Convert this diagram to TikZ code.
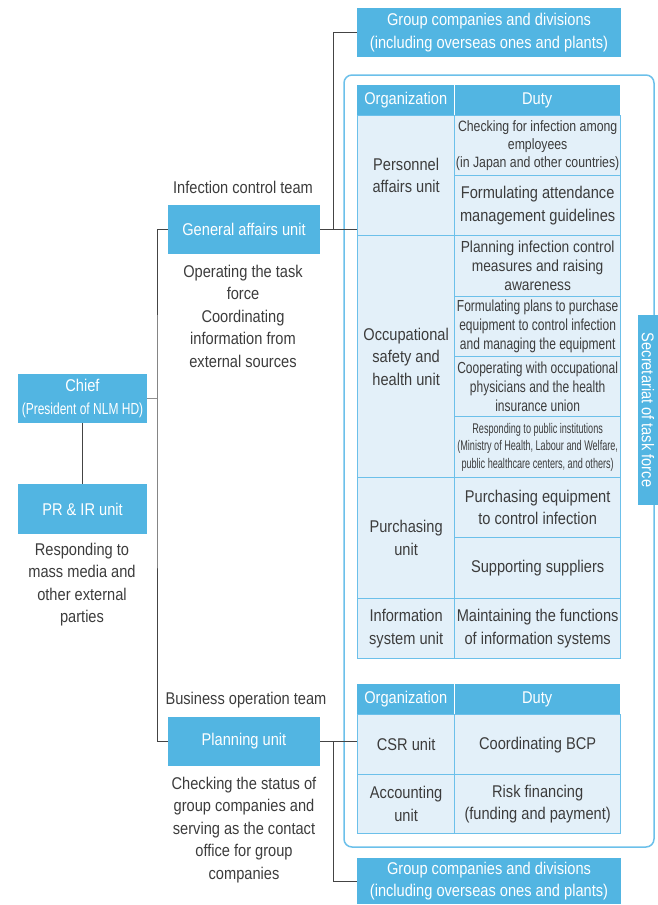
\documentclass[tikz,border=0pt]{standalone}
\usepackage{fontspec}
\setmainfont{Liberation Sans}[FakeStretch=0.86]
\newfontfamily\condA{Liberation Sans}[FakeStretch=0.82]
\newfontfamily\condB{Liberation Sans}[FakeStretch=0.75]
\newfontfamily\condC{Liberation Sans}[FakeStretch=0.65]
\usetikzlibrary{positioning}
\definecolor{boxblue}{HTML}{52B5E2}
\definecolor{cellfill}{HTML}{E3F0F9}
\definecolor{cellline}{HTML}{6CC0EA}
\definecolor{textgray}{HTML}{3C3C3C}
\definecolor{linegray}{HTML}{444444}
\newcommand{\mainsize}{\fontsize{17pt}{22.5pt}\selectfont}
\tikzset{
bluebox/.style={fill=boxblue, text=white, align=center, inner sep=0pt, font=\mainsize},
note/.style={text=textgray, align=center, inner sep=0pt, font=\mainsize},
cell/.style={draw=cellline, fill=cellfill, line width=1.3pt, text=textgray, align=center, inner sep=1pt, anchor=north west, font=\mainsize},
orgcell/.style={cell, minimum width=97pt},
dutycell/.style={cell, minimum width=166pt},
head/.style={fill=boxblue, text=white, inner sep=0pt, anchor=north west, minimum height=30pt, font=\mainsize},
link/.style={draw=linegray, line width=0.9pt}
}

\begin{document}
\begin{tikzpicture}[x=1pt, y=-1pt]
\useasboundingbox (0,0) rectangle (658,905);

% task force frame
\draw[cellline, line width=1.5pt, rounded corners=8pt] (344,75) rectangle (654,847);

% chief and left column
\node[bluebox, minimum width=129pt, minimum height=49pt] (chief) at (82.5,398.5) {Chief\\{\condB\fontsize{16pt}{22.5pt}\selectfont (President of NLM HD)}};
\node[bluebox, minimum width=129pt, minimum height=50pt] (pr) at (82.5,509) {PR \& IR unit};
\node[note] (prnote) at (82,584.5) {Responding to\\mass media and\\other external\\parties};

\node[note] (ictteam) at (243,187) {Infection control team};
\node[bluebox, minimum width=152pt, minimum height=49pt] (genaff) at (244,229.5) {General affairs unit};
\node[note] (genaffnote) at (243,316) {Operating the task\\force\\Coordinating\\information from\\external sources};

\node[note] (bizteam) at (246,700) {Business operation team};
\node[bluebox, minimum width=152pt, minimum height=49pt] (plan) at (244,741.5) {Planning unit};
\node[note] (plannote) at (244,830) {Checking the status of\\group companies and\\serving as the contact\\office for group\\companies};

% group companies
\node[bluebox, minimum width=264pt, minimum height=49pt] (grptop) at (489,32.5) {Group companies and divisions\\(including overseas ones and plants)};
\node[bluebox, minimum width=264pt, minimum height=46pt] (grpbot) at (489,881) {Group companies and divisions\\(including overseas ones and plants)};

% infection control table
\node[head, minimum width=97pt] (orghead) at (357,85) {Organization};
\node[head, minimum width=166pt] (dutyhead) at (454,85) {Duty};
\draw[white, line width=1pt] (orghead.north east) -- (orghead.south east);

\node[orgcell, minimum height=120pt] (pers) at (357,115) {Personnel\\affairs unit};
\node[dutycell, minimum height=60pt, font=\condA\fontsize{15pt}{18pt}\selectfont] (persA) at (454,115) {Checking for infection among\\employees\\(in Japan and other countries)};
\node[dutycell, minimum height=60pt] (persB) at (454,175) {Formulating attendance\\management guidelines};

\node[orgcell, minimum height=242pt] (occ) at (357,235) {Occupational\\safety and\\health unit};
\node[dutycell, minimum height=61pt, font=\fontsize{16pt}{19pt}\selectfont] (occA) at (454,235) {Planning infection control\\measures and raising\\awareness};
\node[dutycell, minimum height=60pt, font=\condB\fontsize{16pt}{19pt}\selectfont] (occB) at (454,296) {Formulating plans to purchase\\equipment to control infection\\and managing the equipment};
\node[dutycell, minimum height=60pt, font=\condB\fontsize{16pt}{19pt}\selectfont] (occC) at (454,356) {Cooperating with occupational\\physicians and the health\\insurance union};
\node[dutycell, minimum height=61pt, font=\condC\fontsize{14pt}{17.5pt}\selectfont] (occD) at (454,416) {Responding to public institutions\\(Ministry of Health, Labour and Welfare,\\public healthcare centers, and others)};

\node[orgcell, minimum height=121pt] (purch) at (357,477) {Purchasing\\unit};
\node[dutycell, minimum height=60pt] (purchA) at (454,477) {Purchasing equipment\\to control infection};
\node[dutycell, minimum height=61pt] (purchB) at (454,537) {Supporting suppliers};

\node[orgcell, minimum height=60pt] (info) at (357,598) {Information\\system unit};
\node[dutycell, minimum height=60pt] (infoA) at (454,598) {Maintaining the functions\\of information systems};

% business operation table
\node[head, minimum width=97pt] (orghead2) at (357,684) {Organization};
\node[head, minimum width=166pt] (dutyhead2) at (454,684) {Duty};
\draw[white, line width=1pt] (orghead2.north east) -- (orghead2.south east);

\node[orgcell, minimum height=60pt] (csr) at (357,714) {CSR unit};
\node[dutycell, minimum height=60pt] (csrA) at (454,714) {Coordinating BCP};
\node[orgcell, minimum height=59pt] (acc) at (357,774) {Accounting\\unit};
\node[dutycell, minimum height=59pt] (accA) at (454,774) {Risk financing\\(funding and payment)};

% secretariat tab
\node[fill=boxblue, text=white, rotate=-90, minimum width=190pt, minimum height=20pt, inner sep=0pt, font=\mainsize] (secr) at (648,410) {Secretariat of task force};

% connectors
\coordinate (hub) at (157,398.5);
\coordinate (jtop) at (333,229.5);
\coordinate (jbot) at (333,741.5);
\draw[link] (genaff.west) -| (hub) |- (plan.west);
\draw[link, draw=linegray!60] (chief.east) -- (hub);
\draw[link] (chief.south) -- (pr.north);
\draw[link] (genaff.east) -- (genaff.east -| pers.west);
\draw[link] (grptop.west) -| (jtop);
\draw[link] (plan.east) -- (plan.east -| csr.west);
\draw[link] (jbot) |- (grpbot.west);
\end{tikzpicture}
\end{document}
